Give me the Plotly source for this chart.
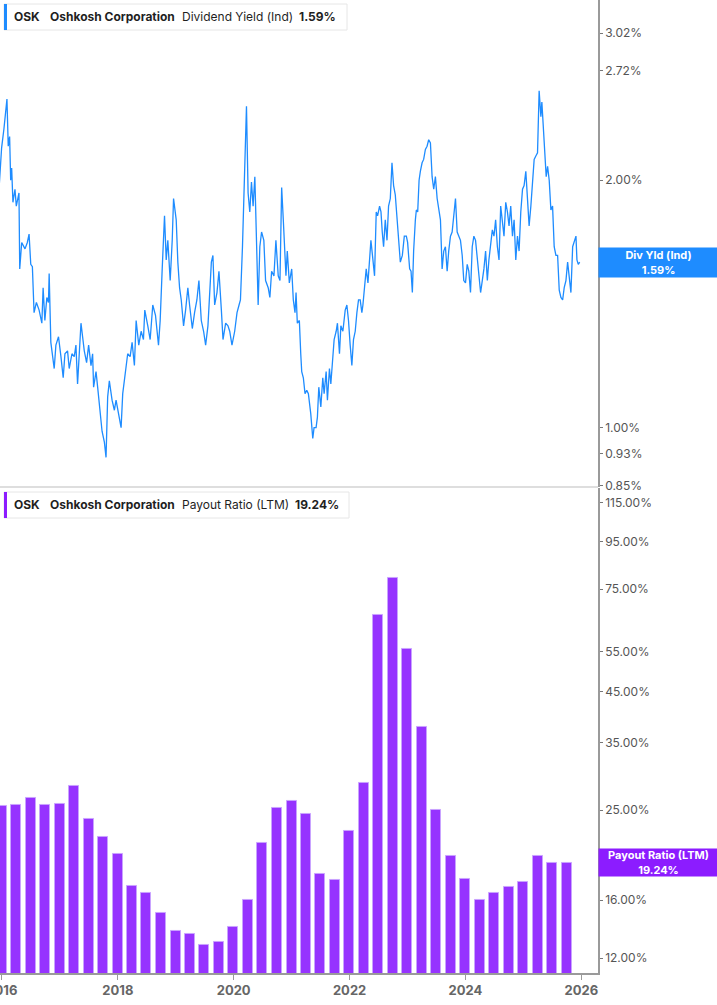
import math
import pandas as pd
import plotly.graph_objects as go

# ---------------- data ----------------
yield_years = [
    2015.950, 2015.995, 2016.035, 2016.064, 2016.087, 2016.109, 2016.133, 2016.151, 2016.168, 2016.190,
    2016.225, 2016.248, 2016.294, 2016.307, 2016.341, 2016.398, 2016.438, 2016.468, 2016.497, 2016.525,
    2016.554, 2016.594, 2016.641, 2016.688, 2016.710, 2016.740, 2016.774, 2016.802, 2016.814, 2016.843,
    2016.901, 2016.930, 2016.975, 2017.017, 2017.056, 2017.086, 2017.131, 2017.160, 2017.207, 2017.247,
    2017.276, 2017.304, 2017.334, 2017.363, 2017.391, 2017.420, 2017.460, 2017.495, 2017.536, 2017.564,
    2017.581, 2017.623, 2017.651, 2017.680, 2017.727, 2017.767, 2017.796, 2017.824, 2017.853, 2017.900,
    2017.940, 2017.969, 2018.014, 2018.056, 2018.084, 2018.130, 2018.170, 2018.212, 2018.246, 2018.286,
    2018.316, 2018.361, 2018.402, 2018.442, 2018.465, 2018.517, 2018.558, 2018.603, 2018.650, 2018.702,
    2018.731, 2018.766, 2018.806, 2018.835, 2018.863, 2018.904, 2018.939, 2018.962, 2019.008, 2019.036,
    2019.066, 2019.095, 2019.135, 2019.170, 2019.209, 2019.239, 2019.286, 2019.325, 2019.365, 2019.400,
    2019.441, 2019.481, 2019.516, 2019.556, 2019.585, 2019.615, 2019.642, 2019.672, 2019.712, 2019.746,
    2019.788, 2019.816, 2019.862, 2019.902, 2019.932, 2019.971, 2020.018, 2020.058, 2020.093, 2020.117,
    2020.152, 2020.191, 2020.221, 2020.249, 2020.278, 2020.307, 2020.335, 2020.365, 2020.394, 2020.422,
    2020.451, 2020.481, 2020.520, 2020.550, 2020.595, 2020.624, 2020.654, 2020.694, 2020.728, 2020.768,
    2020.798, 2020.827, 2020.855, 2020.901, 2020.924, 2020.959, 2021.000, 2021.028, 2021.057, 2021.075,
    2021.097, 2021.132, 2021.156, 2021.173, 2021.201, 2021.230, 2021.260, 2021.288, 2021.329, 2021.364,
    2021.386, 2021.421, 2021.444, 2021.468, 2021.503, 2021.537, 2021.560, 2021.595, 2021.617, 2021.652,
    2021.676, 2021.710, 2021.733, 2021.768, 2021.790, 2021.825, 2021.849, 2021.884, 2021.924, 2021.953,
    2021.981, 2022.010, 2022.039, 2022.067, 2022.097, 2022.126, 2022.154, 2022.183, 2022.212, 2022.230,
    2022.252, 2022.287, 2022.317, 2022.344, 2022.368, 2022.403, 2022.431, 2022.460, 2022.483, 2022.518,
    2022.542, 2022.564, 2022.587, 2022.616, 2022.646, 2022.673, 2022.703, 2022.732, 2022.760, 2022.789,
    2022.819, 2022.847, 2022.876, 2022.911, 2022.945, 2022.980, 2023.002, 2023.037, 2023.061, 2023.084,
    2023.106, 2023.136, 2023.153, 2023.176, 2023.200, 2023.222, 2023.252, 2023.279, 2023.309, 2023.338,
    2023.366, 2023.396, 2023.425, 2023.453, 2023.482, 2023.512, 2023.539, 2023.569, 2023.598, 2023.626,
    2023.655, 2023.685, 2023.712, 2023.742, 2023.771, 2023.799, 2023.829, 2023.858, 2023.886, 2023.915,
    2023.945, 2023.972, 2024.002, 2024.031, 2024.059, 2024.088, 2024.118, 2024.146, 2024.175, 2024.205,
    2024.232, 2024.262, 2024.291, 2024.319, 2024.348, 2024.378, 2024.405, 2024.435, 2024.464, 2024.492,
    2024.521, 2024.551, 2024.579, 2024.608, 2024.637, 2024.665, 2024.695, 2024.724, 2024.752, 2024.781,
    2024.811, 2024.839, 2024.868, 2024.897, 2024.925, 2024.954, 2024.984, 2025.011, 2025.041, 2025.070,
    2025.098, 2025.128, 2025.157, 2025.185, 2025.214, 2025.243, 2025.271, 2025.301, 2025.318, 2025.348,
    2025.370, 2025.393, 2025.417, 2025.445, 2025.474, 2025.503, 2025.531, 2025.561, 2025.590, 2025.618,
    2025.647, 2025.677, 2025.704, 2025.734, 2025.763, 2025.791, 2025.820, 2025.850, 2025.877, 2025.907,
    2025.924, 2025.947, 2025.971,
]

dividend_yield = [
    1.95, 2.19, 2.31, 2.44, 2.51, 2.20, 2.26, 2.00, 2.07, 1.88,
    1.95, 1.86, 1.93, 1.56, 1.68, 1.65, 1.68, 1.72, 1.58, 1.57,
    1.38, 1.42, 1.39, 1.34, 1.48, 1.35, 1.44, 1.42, 1.54, 1.27,
    1.18, 1.26, 1.29, 1.22, 1.15, 1.23, 1.24, 1.18, 1.23, 1.22,
    1.26, 1.13, 1.26, 1.34, 1.29, 1.24, 1.20, 1.26, 1.19, 1.23,
    1.12, 1.17, 1.12, 1.06, 0.99, 0.96, 0.92, 1.09, 1.14, 1.08,
    1.05, 1.08, 1.04, 1.00, 1.10, 1.17, 1.23, 1.22, 1.27, 1.19,
    1.35, 1.26, 1.31, 1.28, 1.39, 1.33, 1.28, 1.41, 1.37, 1.26,
    1.35, 1.56, 1.81, 1.60, 1.69, 1.51, 1.69, 1.90, 1.79, 1.59,
    1.48, 1.43, 1.33, 1.39, 1.48, 1.41, 1.32, 1.38, 1.43, 1.51,
    1.35, 1.31, 1.26, 1.33, 1.44, 1.59, 1.62, 1.41, 1.46, 1.55,
    1.39, 1.28, 1.34, 1.33, 1.31, 1.26, 1.31, 1.38, 1.41, 1.43,
    1.66, 2.06, 2.46, 1.93, 1.83, 1.99, 1.86, 2.02, 1.60, 1.41,
    1.66, 1.73, 1.69, 1.51, 1.48, 1.44, 1.55, 1.53, 1.69, 1.53,
    1.51, 1.96, 1.79, 1.53, 1.64, 1.50, 1.56, 1.43, 1.38, 1.46,
    1.34, 1.35, 1.23, 1.17, 1.15, 1.10, 1.11, 1.10, 1.04, 0.97,
    1.00, 1.00, 1.03, 1.12, 1.06, 1.15, 1.10, 1.17, 1.08, 1.18,
    1.13, 1.23, 1.28, 1.31, 1.34, 1.23, 1.33, 1.31, 1.39, 1.41,
    1.35, 1.26, 1.19, 1.28, 1.31, 1.38, 1.43, 1.43, 1.38, 1.41,
    1.48, 1.56, 1.50, 1.60, 1.69, 1.60, 1.53, 1.83, 1.81, 1.86,
    1.83, 1.73, 1.66, 1.79, 1.69, 1.86, 1.90, 2.10, 1.97, 1.92,
    1.79, 1.68, 1.59, 1.62, 1.71, 1.71, 1.68, 1.56, 1.55, 1.46,
    1.64, 1.79, 1.84, 1.83, 2.00, 2.05, 2.10, 2.12, 2.18, 2.20,
    2.24, 2.22, 2.02, 1.95, 2.02, 1.90, 1.84, 1.79, 1.56, 1.64,
    1.66, 1.55, 1.64, 1.71, 1.73, 1.83, 1.90, 1.73, 1.71, 1.69,
    1.62, 1.51, 1.50, 1.58, 1.55, 1.46, 1.66, 1.71, 1.69, 1.60,
    1.51, 1.46, 1.51, 1.56, 1.64, 1.51, 1.60, 1.66, 1.74, 1.71,
    1.79, 1.66, 1.60, 1.86, 1.78, 1.71, 1.88, 1.83, 1.76, 1.86,
    1.71, 1.79, 1.60, 1.71, 1.64, 1.83, 1.95, 1.97, 2.05, 1.92,
    1.76, 1.86, 1.99, 2.12, 2.14, 2.16, 2.57, 2.39, 2.49, 2.31,
    2.20, 2.02, 2.08, 2.00, 1.84, 1.86, 1.66, 1.62, 1.62, 1.47,
    1.44, 1.43, 1.48, 1.51, 1.59, 1.51, 1.46, 1.66, 1.69, 1.71,
    1.60, 1.58, 1.59,
]

payout_dates = [
    "2015-12-31",
    "2016-03-31", "2016-06-30", "2016-09-30", "2016-12-31",
    "2017-03-31", "2017-06-30", "2017-09-30", "2017-12-31",
    "2018-03-31", "2018-06-30", "2018-09-30", "2018-12-31",
    "2019-03-31", "2019-06-30", "2019-09-30", "2019-12-31",
    "2020-03-31", "2020-06-30", "2020-09-30", "2020-12-31",
    "2021-03-31", "2021-06-30", "2021-09-30", "2021-12-31",
    "2022-03-31", "2022-06-30", "2022-09-30", "2022-12-31",
    "2023-03-31", "2023-06-30", "2023-09-30", "2023-12-31",
    "2024-03-31", "2024-06-30", "2024-09-30", "2024-12-31",
    "2025-03-31", "2025-06-30", "2025-09-30",
]

payout_ratio = [
    25.5,
    25.7, 26.6, 25.7, 25.8,
    28.2, 24.0, 21.9, 20.1,
    17.2, 16.6, 15.0, 13.75,
    13.5, 12.8, 13.0, 14.0,
    16.0, 21.2, 25.3, 26.2,
    24.5, 18.2, 17.7, 22.6,
    28.7, 65.9, 79.3, 55.6,
    37.8, 25.0, 19.9, 17.8,
    16.0, 16.6, 17.1, 17.5,
    19.9, 19.2, 19.24,
]

yield_ticks = [0.85, 0.93, 1.00, 2.00, 2.72, 3.02]
payout_ticks = [12, 16, 20, 25, 35, 45, 55, 75, 95, 115]
year_ticks = ["2016", "2018", "2020", "2022", "2024", "2026"]

last_yield = 1.59
last_payout = 19.24

# ---------------- helpers ----------------
def decimal_year_to_date(y):
    yr = int(y)
    start = pd.Timestamp(yr, 1, 1)
    end = pd.Timestamp(yr + 1, 1, 1)
    return start + (end - start) * (y - yr)

n = min(len(yield_years), len(dividend_yield))
yield_dates = [decimal_year_to_date(y) for y in yield_years[:n]]
yield_vals = dividend_yield[:n]

BLUE = "#1E8CFF"
PURPLE = "#9633FF"
PURPLE_LBL = "#8C1CFF"
AXIS = "#9a9a9a"
FONT = "Inter, Roboto, sans-serif"
TICKFONT = dict(family=FONT, size=12, color="#555555")

PLOT_W = 598.0
PLOT_H = 973.0

def px_x(p):
    return p / PLOT_W

def px_y(p):
    return (PLOT_H - p) / PLOT_H

fig = go.Figure()

fig.add_trace(go.Scatter(
    x=yield_dates, y=yield_vals, mode="lines",
    line=dict(color=BLUE, width=1.3),
    xaxis="x2", yaxis="y", showlegend=False, hoverinfo="skip",
))

fig.add_trace(go.Bar(
    x=pd.to_datetime(payout_dates), y=payout_ratio,
    marker=dict(color=PURPLE, line=dict(color="#c9a3ff", width=1)),
    width=63 * 86400000,
    xaxis="x", yaxis="y2", showlegend=False, hoverinfo="skip",
))

x_range = ["2015-12-20", "2026-04-16"]

fig.update_layout(
    width=717, height=1005,
    margin=dict(l=0, r=119, t=0, b=32, autoexpand=False),
    paper_bgcolor="white", plot_bgcolor="white",
    bargap=0,
    xaxis=dict(
        domain=[0, 1], anchor="y2", type="date", range=x_range,
        tickvals=[pd.Timestamp(int(t), 1, 1) for t in year_ticks],
        ticktext=["<b>%s</b>" % t for t in year_ticks],
        tickfont=dict(family=FONT, size=13, color="#666666"),
        ticks="outside", ticklen=5, tickcolor=AXIS,
        ticklabeloverflow="allow", automargin=False,
        showline=True, linecolor=AXIS, linewidth=1.5,
        showgrid=False, zeroline=False,
    ),
    xaxis2=dict(
        domain=[0, 1], anchor="y", type="date", range=x_range,
        matches="x", visible=False, showgrid=False, automargin=False,
    ),
    yaxis=dict(
        domain=[0.4995, 1], anchor="x2", side="right", type="log",
        range=[-0.0722, 0.5203], automargin=False,
        tickvals=yield_ticks, ticktext=["%.2f%%" % v for v in yield_ticks],
        tickfont=TICKFONT, ticks="outside", ticklen=3, tickcolor="#777777",
        showline=True, linecolor=AXIS, linewidth=1.5,
        showgrid=False, zeroline=False,
    ),
    yaxis2=dict(
        domain=[0, 0.4985], anchor="x", side="right", type="log",
        range=[1.0469, 2.0931], automargin=False,
        tickvals=payout_ticks, ticktext=["%.2f%%" % v for v in payout_ticks],
        tickfont=TICKFONT, ticks="outside", ticklen=3, tickcolor="#777777",
        showline=True, linecolor=AXIS, linewidth=1.5,
        showgrid=False, zeroline=False,
    ),
)

shapes = []
# separator between panels
shapes.append(dict(type="line", xref="paper", yref="paper",
                   x0=0, x1=1, y0=px_y(487), y1=px_y(487),
                   line=dict(color="#dedede", width=2)))

def legend_box(top, bottom, right, color):
    shapes.append(dict(type="rect", xref="paper", yref="paper",
                       x0=px_x(4), x1=px_x(right), y0=px_y(bottom), y1=px_y(top),
                       line=dict(color="#e6e6e6", width=1), fillcolor="white", layer="above"))
    shapes.append(dict(type="rect", xref="paper", yref="paper",
                       x0=px_x(4), x1=px_x(7), y0=px_y(bottom), y1=px_y(top),
                       line=dict(width=0), fillcolor=color, layer="above"))

legend_box(4, 30, 347, BLUE)
legend_box(492, 518, 349, PURPLE_LBL)
fig.update_layout(shapes=shapes)

annotations = []

def leg_text(x, y, text, bold):
    annotations.append(dict(
        xref="paper", yref="paper", x=px_x(x), y=px_y(y),
        xanchor="left", yanchor="middle", showarrow=False,
        text=("<b>%s</b>" % text) if bold else text,
        font=dict(family=FONT, size=12, color="#1f1f1f"),
    ))

leg_text(12, 17, "OSK", True)
leg_text(48, 17, "Oshkosh Corporation", True)
leg_text(180, 17, "Dividend Yield (Ind)", False)
leg_text(297, 17, "%.2f%%" % last_yield, True)

leg_text(12, 505, "OSK", True)
leg_text(48, 505, "Oshkosh Corporation", True)
leg_text(180, 505, "Payout Ratio (LTM)", False)
leg_text(293, 505, "%.2f%%" % last_payout, True)

annotations.append(dict(
    xref="paper", yref="y", x=1.0, y=math.log10(last_yield),
    xanchor="left", yanchor="middle", showarrow=False,
    text="<b>Div Yld (Ind)</b><br><b>%.2f%%</b>" % last_yield,
    font=dict(family=FONT, size=11, color="white"),
    bgcolor=BLUE, width=117, height=27, borderpad=1, align="center",
))
annotations.append(dict(
    xref="paper", yref="y2", x=1.0, y=math.log10(last_payout),
    xanchor="left", yanchor="middle", showarrow=False,
    text="<b>Payout Ratio (LTM)</b><br><b>%.2f%%</b>" % last_payout,
    font=dict(family=FONT, size=11, color="white"),
    bgcolor=PURPLE_LBL, width=117, height=25, borderpad=1, align="center",
))
fig.update_layout(annotations=annotations)

fig.write_html(
    "out.html",
    config={"displayModeBar": False},
    post_script="document.body.style.margin='0';document.body.style.padding='0';",
)
